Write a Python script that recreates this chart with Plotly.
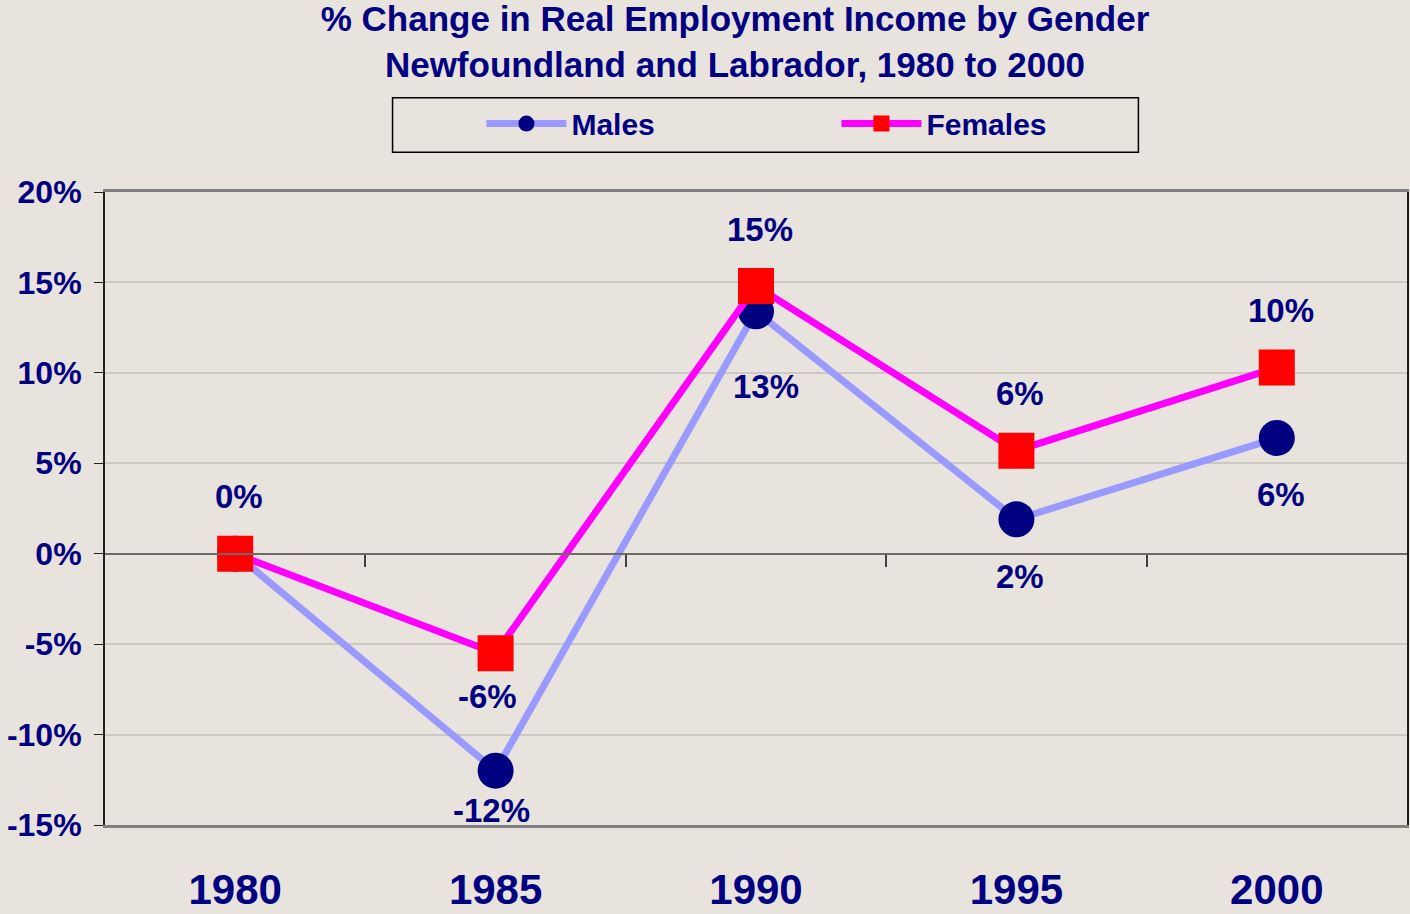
import plotly.graph_objects as go

# ---- data ----
years = ["1980", "1985", "1990", "1995", "2000"]
males = [0.0, -12.0, 13.4, 1.9, 6.4]
females = [0.0, -5.5, 14.8, 5.7, 10.3]
male_labels = ["", "-12%", "13%", "2%", "6%"]
female_labels = ["0%", "-6%", "15%", "6%", "10%"]
y_ticks = [-15, -10, -5, 0, 5, 10, 15, 20]

# ---- style ----
NAVY = "#000080"
BG = "#E8E3DC"
FONT = "Liberation Sans, Arial, sans-serif"
male_shift = [0, -40, -75, -57, -57]
male_xshift = [0, -4, 10, 4, 4]
female_shift = [57, -43, 57, 57, 57]
female_xshift = [4, -8, 4, 4, 4]

xidx = list(range(len(years)))
ymin, ymax = y_ticks[0], y_ticks[-1]

fig = go.Figure()
fig.add_trace(go.Scatter(
    x=xidx, y=males, name="Males", mode="lines+markers",
    line=dict(color="#9999FF", width=7),
    marker=dict(symbol="circle", size=36, color=NAVY),
    cliponaxis=False, hoverinfo="skip"))
fig.add_trace(go.Scatter(
    x=xidx, y=females, name="Females", mode="lines+markers",
    line=dict(color="#FF00FF", width=7),
    marker=dict(symbol="square", size=36, color="#FF0000"),
    cliponaxis=False, hoverinfo="skip"))
# helper trace so the category-boundary axis at zero gets drawn
fig.add_trace(go.Scatter(x=xidx, y=[None] * len(xidx), xaxis="x2",
                         showlegend=False, hoverinfo="skip", mode="lines"))

ann = []
for i, (v, t) in enumerate(zip(males, male_labels)):
    if t:
        ann.append(dict(x=i, y=v, text=t, showarrow=False, yshift=male_shift[i],
                        xshift=male_xshift[i],
                        font=dict(size=33, color=NAVY, family=FONT, weight="bold")))
for i, (v, t) in enumerate(zip(females, female_labels)):
    if t:
        ann.append(dict(x=i, y=v, text=t, showarrow=False, yshift=female_shift[i],
                        xshift=female_xshift[i],
                        font=dict(size=33, color=NAVY, family=FONT, weight="bold")))

T, B = 192, 84
PH = 914 - T - B
def py(px):  # pixel row -> paper y
    return (914 - B - px) / PH

fig.update_layout(
    width=1410, height=914,
    margin=dict(l=105, r=1, t=T, b=B),
    paper_bgcolor=BG, plot_bgcolor=BG,
    font=dict(family=FONT, color=NAVY, weight="bold"),
    title=dict(text="% Change in Real Employment Income by Gender<br>Newfoundland and Labrador, 1980 to 2000",
               x=735 / 1410, xanchor="center", xref="container",
               y=1 - 31 / 914, yanchor="middle", yref="container",
               font=dict(size=35, color=NAVY, family=FONT, weight="bold")),
    xaxis=dict(range=[-0.5, len(years) - 0.5], tickvals=xidx, ticktext=years,
               ticks="", showgrid=False, zeroline=False,
               showline=True, linecolor="#808080", linewidth=3, mirror=True,
               tickfont=dict(size=42, color=NAVY, family=FONT, weight="bold"),
               ticklabelstandoff=26),
    xaxis2=dict(overlaying="x", anchor="free", position=(0 - ymin) / (ymax - ymin),
                range=[-0.5, len(years) - 0.5],
                tickvals=[i + 0.5 for i in xidx[:-1]], showticklabels=False,
                ticks="outside", ticklen=12, tickcolor="#404040", tickwidth=2,
                showline=True, linecolor="#6E6A66", linewidth=2,
                showgrid=False, zeroline=False),
    yaxis=dict(range=[ymin, ymax], tickvals=y_ticks,
               ticktext=[f"{v}%" for v in y_ticks],
               showgrid=True, gridcolor="#CCC8C2", gridwidth=1.5,
               zeroline=False, showline=True, linecolor="#202020", linewidth=2,
               mirror=True, ticks="outside", ticklen=9, tickcolor="#202020",
               tickfont=dict(size=32, color=NAVY, family=FONT, weight="bold"),
               ticklabelstandoff=6),
    legend=dict(orientation="h", x=(482 - 105) / 1304, xanchor="left",
                y=py(123), yanchor="middle",
                bgcolor="rgba(0,0,0,0)", borderwidth=0,
                font=dict(size=30, color=NAVY, family=FONT, weight="bold"),
                itemwidth=80, entrywidth=260, entrywidthmode="pixels"),
    shapes=[dict(type="rect", xref="paper", yref="paper",
                 x0=(393 - 105) / 1304, x1=(1140 - 105) / 1304,
                 y0=py(152), y1=py(97),
                 line=dict(color="#000000", width=1.5), fillcolor="rgba(0,0,0,0)")],
    annotations=ann,
    showlegend=True,
)

fig.write_html("out.html", config={"displayModeBar": False})

# remove the browser's default page margin so the figure fills the window exactly
with open("out.html", "r", encoding="utf-8") as f:
    html = f.read()
html = html.replace("<head>", "<head><style>html,body{margin:0;padding:0;overflow:hidden;}</style>", 1)
with open("out.html", "w", encoding="utf-8") as f:
    f.write(html)
